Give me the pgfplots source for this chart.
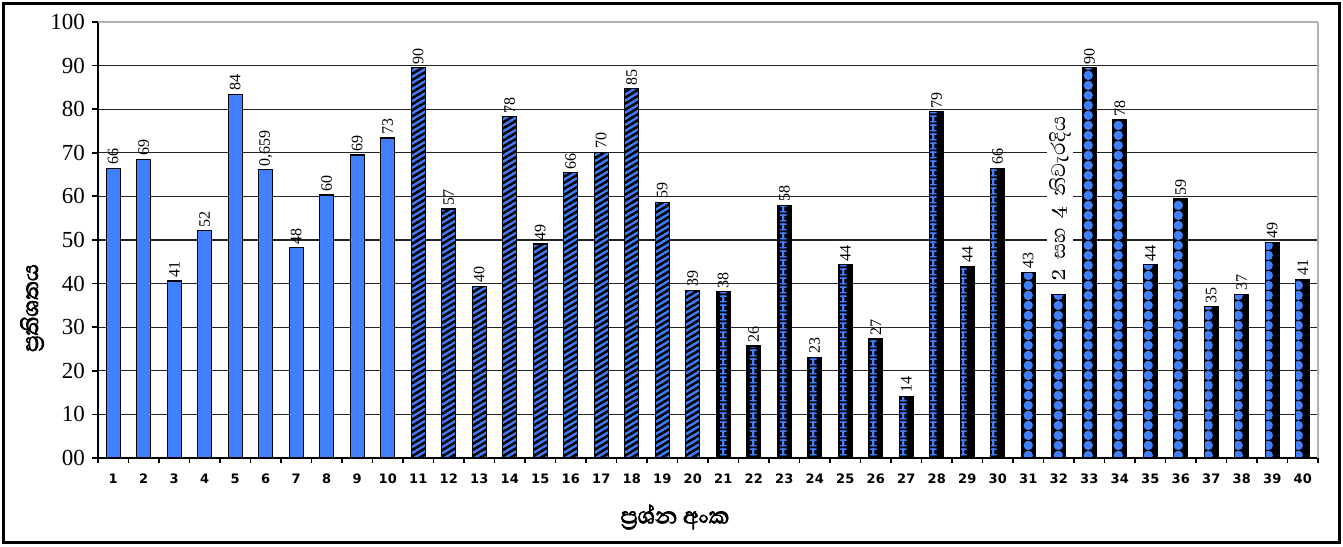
\documentclass[border=0pt]{standalone}
\usepackage{fontspec}
\setmainfont{Liberation Serif}
\newfontfamily\sinhala[Script=Sinhala]{Abhaya Libre}
\newfontfamily\sinhalab[Script=Sinhala, FakeBold=2.5]{Abhaya Libre}
\newfontfamily\numsans{DejaVu Sans}
\usepackage{pgfplots}
\usepackage{pgfplotstable}
\pgfplotsset{compat=1.18}
\usetikzlibrary{patterns,patterns.meta}

\definecolor{barblue}{RGB}{64,128,255}

% blue "I" shapes on black
\tikzdeclarepattern{
  name=ipat, type=uncolored,
  bounding box={(0,0) and (7.625pt,4.5pt)},
  tile size={(7.625pt,4.5pt)},
  code={
    \fill (2.0pt,0.3pt) rectangle (5.6pt,1.1pt);
    \fill (2.0pt,3.4pt) rectangle (5.6pt,4.2pt);
    \fill (3.2pt,0.3pt) rectangle (4.4pt,4.2pt);
  }
}
% blue dots on black
\tikzdeclarepattern{
  name=bigdots, type=uncolored,
  bounding box={(0,0) and (7.625pt,4.8pt)},
  tile size={(7.625pt,4.8pt)},
  code={
    \fill (3.8pt,2.4pt) circle[radius=2.45pt];
  }
}

\pgfplotstableread{
x y lab
1 66.4 66
2 68.5 69
3 40.6 41
4 52.1 52
5 83.4 84
6 66.1 0,659
7 48.2 48
8 60.3 60
9 69.5 69
10 73.4 73
}\setA
\pgfplotstableread{
x y lab
11 89.5 90
12 57.1 57
13 39.4 40
14 78.3 78
15 49.1 49
16 65.4 66
17 70.1 70
18 84.7 85
19 58.6 59
20 38.5 39
}\setB
\pgfplotstableread{
x y lab
21 38.1 38
22 25.7 26
23 57.9 58
24 23.1 23
25 44.3 44
26 27.3 27
27 14.1 14
28 79.4 79
29 43.9 44
30 66.4 66
}\setC
\pgfplotstableread{
x y lab
31 42.6 43
32 37.5 {}
33 89.5 90
34 77.5 78
35 44.3 44
36 59.4 59
37 34.7 35
38 37.5 37
39 49.5 49
40 41.0 41
}\setD

\begin{document}
\begin{tikzpicture}
\begin{axis}[
    name=ax,
    scale only axis,
    width=610pt, height=218pt,
    ybar, bar width=7pt,
    xmin=0.5, xmax=40.5, ymin=0, ymax=100,
    axis x line*=bottom, axis y line*=left,
    axis line style={line width=1.1pt},
    tick align=outside,
    xtick={1,...,40},
    major x tick style={draw=none},
    minor xtick={0.5,1.5,...,40.5},
    minor tick length=2.5pt,
    minor x tick style={line width=0.9pt, black},
    x tick label style={font=\numsans\bfseries\fontsize{6.5}{7}\selectfont, yshift=-1.5pt},
    ytick={0,10,...,90},
    yticklabels={00,10,20,30,40,50,60,70,80,90},
    extra y ticks={100},
    extra y tick labels={100},
    extra y tick style={grid style={gray!60, line width=0.8pt}},
    major tick length=3pt,
    y tick style={line width=0.9pt, black},
    y tick label style={font=\fontsize{11.5}{12}\selectfont},
    /pgf/number format/assume math mode=true,
    ymajorgrids, grid style={black!85, line width=0.55pt},
    point meta=explicit symbolic,
    nodes near coords,
    every node near coord/.append style={rotate=90, anchor=west, inner sep=1.5pt,
      font=\fontsize{8}{9}\selectfont, black},
    clip=false,
]
\addplot[bar shift=0pt, draw=black, line width=0.6pt, fill=barblue]
  table[x=x, y=y, meta=lab] {\setA};
\addplot[bar shift=0pt, draw=black, line width=0.6pt, fill=barblue,
  postaction={pattern={Lines[angle=31, distance=2.6pt, line width=1.3pt]}, pattern color=black}]
  table[x=x, y=y, meta=lab] {\setB};
\addplot[bar shift=0pt, draw=black, line width=0.6pt, fill=black,
  postaction={pattern=ipat, pattern color=barblue}]
  table[x=x, y=y, meta=lab] {\setC};
\addplot[bar shift=0pt, draw=black, line width=0.6pt, fill=black,
  postaction={pattern=bigdots, pattern color=barblue}]
  table[x=x, y=y, meta=lab] {\setD};

\node[rotate=90, fill=white, inner sep=1pt, font=\sinhala\fontsize{12.5}{13}\selectfont]
  at (axis cs:32.05,59.5) {2\ \ සහ\ \ 4\ \ නිවැරදිය};
\end{axis}
\draw[gray!60, line width=0.8pt] (ax.north east) -- (ax.south east);
\node[rotate=90, font=\sinhalab\fontsize{14}{15}\selectfont]
  at ([xshift=-33pt, yshift=75pt]ax.south west) {ප්‍රතිශතය};
\node[font=\sinhalab\fontsize{14.5}{15}\selectfont]
  at ([xshift=288.5pt, yshift=-29.5pt]ax.south west) {ප්‍රශ්න අංක};
\draw[line width=1.5pt] ([xshift=-47pt, yshift=-42pt]ax.south west)
  rectangle ([xshift=10.5pt, yshift=9pt]ax.north east);
\path ([xshift=-49pt, yshift=-44pt]ax.south west)
  rectangle ([xshift=12.5pt, yshift=11pt]ax.north east);
\end{tikzpicture}
\end{document}
